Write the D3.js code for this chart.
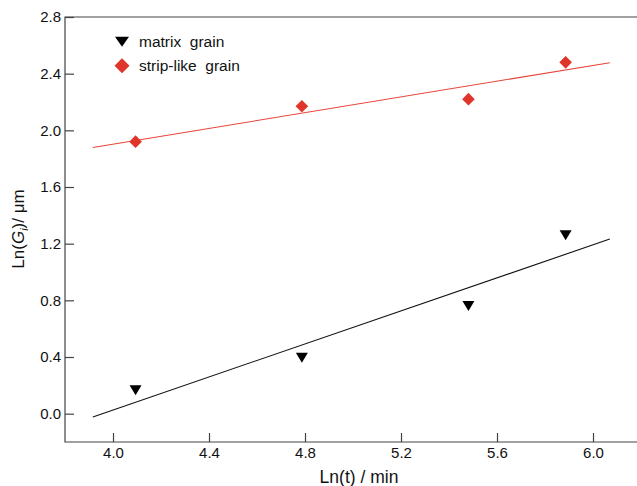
<!DOCTYPE html>
<html>
<head>
<meta charset="utf-8">
<script src="https://cdn.jsdelivr.net/npm/d3@7"></script>
<style>
  html, body { margin: 0; padding: 0; background: #fff; }
  svg { display: block; font-family: "Liberation Sans", Arial, sans-serif; }
</style>
</head>
<body>
<div id="chart"></div>
<script>
(function () {
  var width  = 637;
  var height = 486;

  // ln of annealing time (60, 120, 240, 360 min)
  var lnTime = [4.094, 4.787, 5.481, 5.886];
  var matrixGrain = [0.165, 0.395, 0.76, 1.26];
  var stripGrain  = [1.92, 2.17, 2.22, 2.48];
  var xTicks = [4.0, 4.4, 4.8, 5.2, 5.6, 6.0];
  var yTicks = [0.0, 0.4, 0.8, 1.2, 1.6, 2.0, 2.4, 2.8];
  var fitRange = [3.916, 6.07];

  function triangleDown(w, h) {
    return "M" + (-w / 2) + "," + (-h / 2) + "L" + (w / 2) + "," + (-h / 2) + "L0," + (h / 2) + "Z";
  }
  function diamond(r) {
    return "M0," + (-r) + "L" + r + ",0L0," + r + "L" + (-r) + ",0Z";
  }

  var series = [
    { name: "matrix  grain",     values: matrixGrain, color: "#000000", line: "#111111",
      mark: triangleDown(12, 10), legendMark: triangleDown(14, 10) },
    { name: "strip-like  grain", values: stripGrain,  color: "#e0352a", line: "#e8453a",
      mark: diamond(6.3), legendMark: diamond(7.5) }
  ];

  var left = 65, right = 641, top = 17, bottom = 442;

  var x = d3.scaleLinear().domain([3.8, 6.2]).range([left, right]);
  var y = d3.scaleLinear().domain([-0.2, 2.8]).range([bottom, top]);

  var svg = d3.select("#chart").append("svg")
    .attr("width", width)
    .attr("height", height);

  // frame: left, top, bottom (right side runs off the picture)
  var axisColor = "#444";
  svg.append("path")
    .attr("d", "M" + width + "," + top + "H" + left + "V" + bottom + "H" + width)
    .attr("fill", "none")
    .attr("stroke", axisColor)
    .attr("stroke-width", 1.2);

  var xAxis = d3.axisBottom(x).tickValues(xTicks).tickSize(-9).tickPadding(5)
    .tickFormat(d3.format(".1f"));
  var gx = svg.append("g").attr("transform", "translate(0," + bottom + ")").call(xAxis);
  gx.select(".domain").remove();

  var yAxis = d3.axisLeft(y).tickValues(yTicks).tickSize(-9).tickPadding(4)
    .tickFormat(d3.format(".1f"));
  var gy = svg.append("g").attr("transform", "translate(" + left + ",0)").call(yAxis);
  gy.select(".domain").remove();

  svg.selectAll(".tick line").attr("stroke", axisColor).attr("stroke-width", 1.2);
  svg.selectAll(".tick text")
    .attr("font-size", "15px")
    .attr("fill", "#111")
    .style("font-family", "Liberation Sans, Arial, sans-serif");
  gx.selectAll(".tick text").attr("dy", null).attr("y", 15.5);

  // least-squares fit lines
  function fit(xs, ys) {
    var mx = d3.mean(xs), my = d3.mean(ys);
    var sxy = d3.sum(xs, function (v, i) { return (v - mx) * (ys[i] - my); });
    var sxx = d3.sum(xs, function (v) { return (v - mx) * (v - mx); });
    var b = sxy / sxx;
    return function (v) { return my + b * (v - mx); };
  }

  series.forEach(function (s) {
    var f = fit(lnTime, s.values);
    svg.append("line")
      .attr("x1", x(fitRange[0])).attr("y1", y(f(fitRange[0])))
      .attr("x2", x(fitRange[1])).attr("y2", y(f(fitRange[1])))
      .attr("stroke", s.line)
      .attr("stroke-width", 1.1);

    svg.append("g").selectAll("path")
      .data(s.values)
      .enter().append("path")
      .attr("d", s.mark)
      .attr("transform", function (d, i) {
        return "translate(" + x(lnTime[i]) + "," + y(d) + ")";
      })
      .attr("fill", s.color);
  });

  // legend
  var legend = svg.append("g").attr("transform", "translate(122,41.7)");
  series.forEach(function (s, i) {
    var g = legend.append("g").attr("transform", "translate(0," + (i * 24) + ")");
    g.append("path")
      .attr("d", s.legendMark)
      .attr("fill", s.color);
    g.append("text")
      .attr("x", 17)
      .attr("y", 5.3)
      .attr("font-size", "15.5px")
      .attr("fill", "#111")
      .style("white-space", "pre")
      .text(s.name);
  });

  // axis titles
  svg.append("text")
    .attr("x", 359)
    .attr("y", 483)
    .attr("text-anchor", "middle")
    .attr("font-size", "17.5px")
    .attr("fill", "#111")
    .text("Ln(t) / min");

  var yt = svg.append("text")
    .attr("transform", "translate(24,229) rotate(-90)")
    .attr("text-anchor", "middle")
    .attr("font-size", "17px")
    .attr("fill", "#111");
  yt.append("tspan").text("Ln(");
  yt.append("tspan").attr("font-style", "italic").text("G");
  yt.append("tspan").attr("font-style", "italic").attr("font-size", "11px").attr("dy", 4).text("i");
  yt.append("tspan").attr("dy", -4).text(")/ \u03bcm");
})();
</script>
</body>
</html>
